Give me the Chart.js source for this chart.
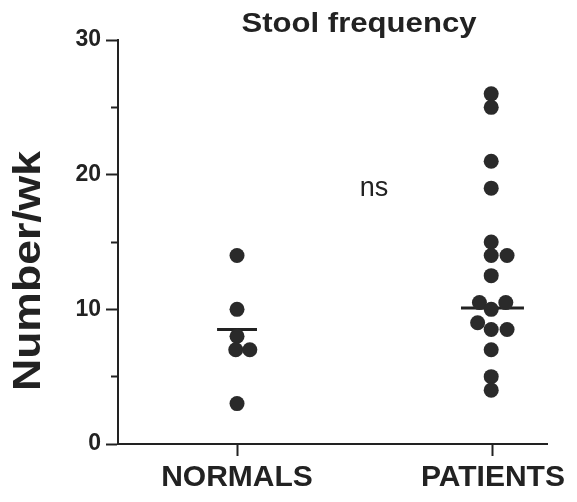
<!DOCTYPE html>
<html>
<head>
<meta charset="utf-8">
<script src="https://cdn.jsdelivr.net/npm/chart.js@4.4.1/dist/chart.umd.min.js"></script>
<style>
  html, body { margin: 0; padding: 0; background: #fff; }
</style>
</head>
<body>
<canvas id="myChart" width="577" height="502"></canvas>
<script>
// groups on the x axis
const categories = ['NORMALS', 'PATIENTS'];

// stools per week
const normalsValues = [14, 10, 8, 7, 7, 3];
const normalsX = [1, 1, 1, 0.995, 1.05, 1];
const patientsValues = [26, 25, 21, 19, 15, 14, 14, 12.5, 10.5, 10.5, 10, 9, 8.5, 8.5, 7, 5, 4];
const patientsX = [1.993, 1.993, 1.993, 1.993, 1.993, 1.993, 2.055, 1.993, 1.947, 2.05, 1.993, 1.94, 1.993, 2.055, 1.993, 1.993, 1.993];

// horizontal bars (median/mean) for each group
const normalsBar = [8.5, 8.5];
const normalsBarX = [0.922, 1.078];
const patientsBar = [10.1, 10.1];
const patientsBarX = [1.875, 2.121];

const majorTicks = [0, 10, 20, 30];
const minorTicks = [5, 15, 25];

const ink = '#222222';
const dotColor = '#2a2a2a';

function toPoints(xs, ys) {
    return ys.map((y, i) => ({ x: xs[i], y: y }));
}

const textPlugin = {
    id: 'texts',
    afterDraw(chart) {
        const ctx = chart.ctx;
        const x = chart.scales.x;
        const y = chart.scales.y;
        ctx.save();
        ctx.fillStyle = ink;

        // title
        ctx.font = 'bold 27px "Liberation Sans", Arial, sans-serif';
        ctx.textAlign = 'center';
        ctx.textBaseline = 'alphabetic';
        let w = ctx.measureText('Stool frequency').width;
        ctx.save();
        ctx.translate(359, 32);
        ctx.scale(235 / w, 1);
        ctx.fillText('Stool frequency', 0, 0);
        ctx.restore();

        // ns
        ctx.font = '27px "Liberation Sans", Arial, sans-serif';
        ctx.fillText('ns', x.getPixelForValue(1.535), y.getPixelForValue(18.4));

        // y axis title
        ctx.font = 'bold 38px "Liberation Sans", Arial, sans-serif';
        ctx.textBaseline = 'middle';
        w = ctx.measureText('Number/wk').width;
        ctx.translate(30, 271);
        ctx.rotate(-Math.PI / 2);
        ctx.scale(240 / w, 1);
        ctx.fillText('Number/wk', 0, 0);
        ctx.restore();
    }
};

const ctx = document.getElementById('myChart').getContext('2d');
const myChart = new Chart(ctx, {
    type: 'scatter',
    data: {
        datasets: [{
            label: 'Normals',
            data: toPoints(normalsX, normalsValues),
            backgroundColor: dotColor,
            borderWidth: 0,
            pointRadius: 7.5,
            clip: false
        }, {
            label: 'Patients',
            data: toPoints(patientsX, patientsValues),
            backgroundColor: dotColor,
            borderWidth: 0,
            pointRadius: 7.5,
            clip: false
        }, {
            type: 'line',
            data: toPoints(normalsBarX, normalsBar),
            borderColor: ink,
            borderWidth: 3,
            pointRadius: 0,
            clip: false
        }, {
            type: 'line',
            data: toPoints(patientsBarX, patientsBar),
            borderColor: ink,
            borderWidth: 3,
            pointRadius: 0,
            clip: false
        }]
    },
    options: {
        responsive: false,
        animation: false,
        layout: { padding: { top: 40, right: 30, left: 0, bottom: 0 } },
        plugins: {
            legend: { display: false },
            tooltip: { enabled: false }
        },
        scales: {
            x: {
                type: 'linear',
                position: 'bottom',
                min: 0.535,
                max: 2.211,
                afterBuildTicks: function (scale) {
                    scale.ticks = [{ value: 1 }, { value: 2 }];
                },
                afterFit: function (scale) {
                    scale.height = 58;
                },
                ticks: {
                    callback: function (value) {
                        return categories[Math.round(value) - 1];
                    },
                    color: ink,
                    font: { family: '"Liberation Sans", Arial, sans-serif', size: 30, weight: 'bold' },
                    padding: 4,
                    maxRotation: 0,
                    autoSkip: false
                },
                grid: { drawOnChartArea: false, tickLength: 12, tickWidth: 2, tickColor: ink },
                border: { color: ink, width: 2 }
            },
            y: {
                position: 'left',
                weight: 1,
                min: 0,
                max: 30,
                afterBuildTicks: function (scale) {
                    scale.ticks = majorTicks.map(v => ({ value: v }));
                },
                afterFit: function (scale) {
                    scale.width = 118;
                },
                ticks: {
                    color: ink,
                    font: { family: '"Liberation Sans", Arial, sans-serif', size: 23, weight: 'bold' },
                    padding: 5
                },
                grid: { drawOnChartArea: false, tickLength: 12, tickWidth: 2, tickColor: ink },
                border: { color: ink, width: 2 }
            },
            y2: {
                position: 'left',
                weight: 0,
                min: 0,
                max: 30,
                afterBuildTicks: function (scale) {
                    scale.ticks = minorTicks.map(v => ({ value: v }));
                },
                afterFit: function (scale) {
                    scale.width = 0;
                },
                ticks: { display: false },
                grid: { drawOnChartArea: false, tickLength: 7, tickWidth: 2, tickColor: ink },
                border: { display: false }
            }
        }
    },
    plugins: [textPlugin]
});
</script>
</body>
</html>
